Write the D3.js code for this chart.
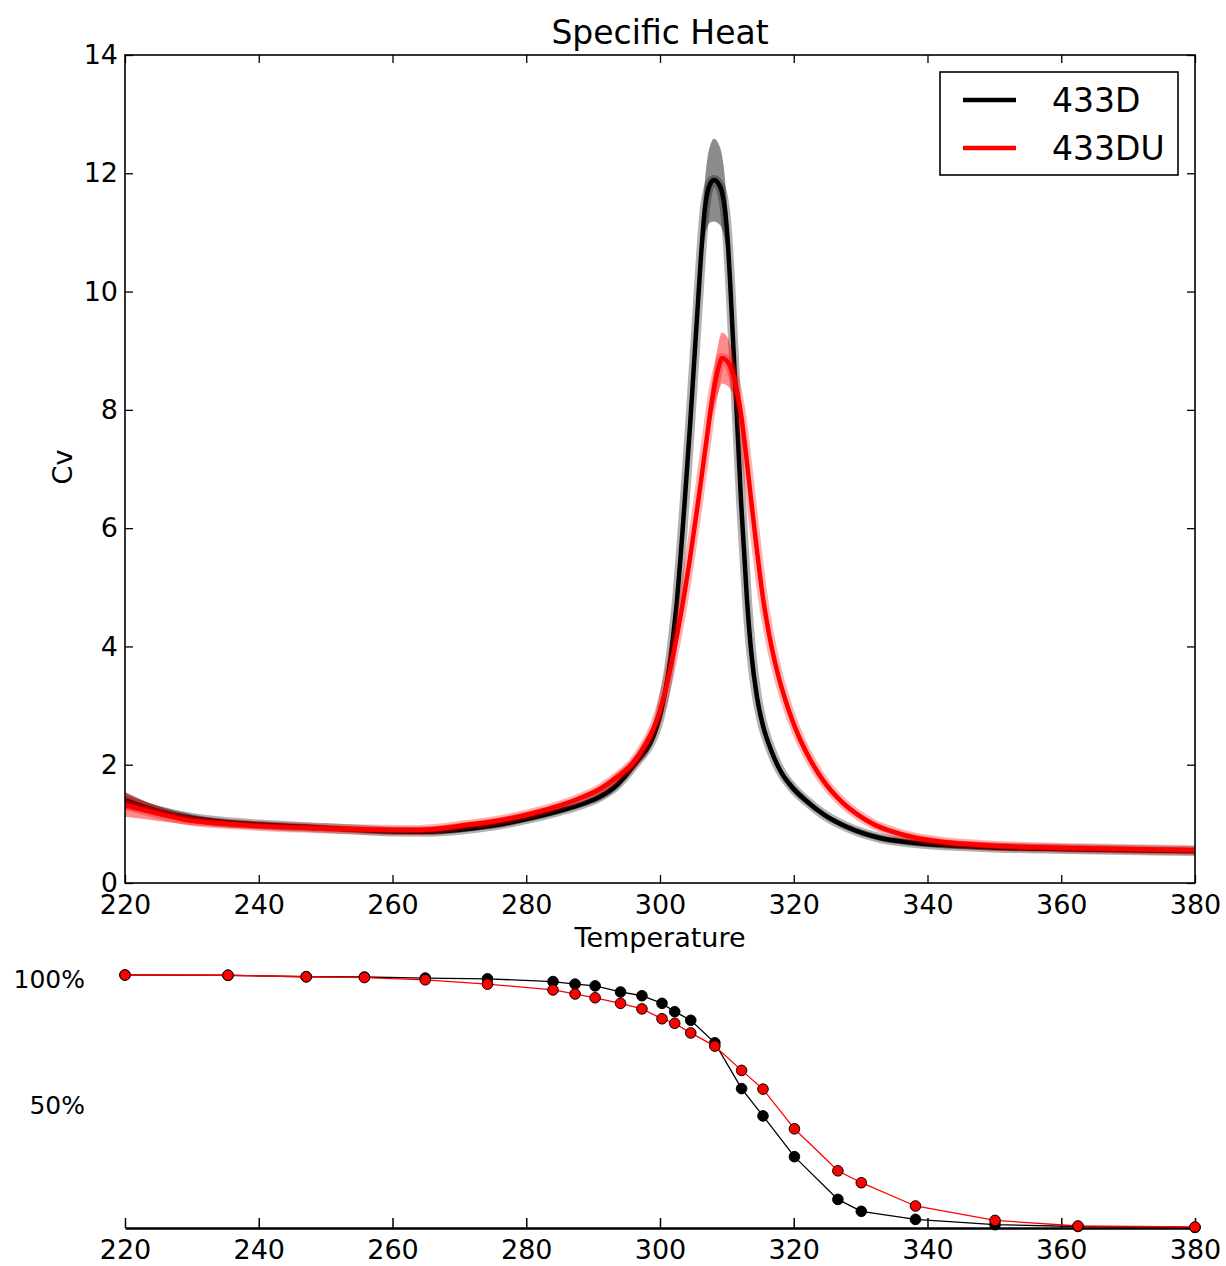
<!DOCTYPE html>
<html><head><meta charset="utf-8">
<script src="https://cdn.jsdelivr.net/npm/d3@7"></script>
<style>
html,body{margin:0;padding:0;background:#fff;}
text{font-family:"DejaVu Sans",sans-serif;fill:#000;}
</style></head>
<body>
<script>
// ---------- data ----------
const xTicks = [220,240,260,280,300,320,340,360,380];
const yTicks = [0,2,4,6,8,10,12,14];
const seriesNames = ["433D","433DU"];
const seriesColors = ["#000000","#ff0000"];

// Specific heat, 433D
const tD  = [220,225,230,235,240,250,260,265,270,275,280,285,288.5,
  291.03,293.57,296.56,298.5,299.25,299.85,300.52,301.35,301.94,302.54,303.1,303.66,304.1,304.56,305.0,305.53,305.83,306.13,306.43,306.73,307.1,307.55,308.07,
  308.67,309.27,309.72,310.17,310.47,310.77,311.07,311.37,311.74,312.11,312.56,313.01,313.61,314.51,315.4,316.6,317.94,319.73,321.73,324.58,327.87,332.9,337.83,347.85,362.8,380];
const cvD = [1.40,1.22,1.10,1.03,0.99,0.93,0.87,0.865,0.90,0.97,1.08,1.22,1.34,
  1.46,1.66,2.06,2.36,2.55,2.76,3.094,3.62,4.15,4.78,5.55,6.40,7.10,7.85,8.62,9.55,10.08,10.6,11.06,11.42,11.68,11.83,11.886,
  11.836,11.683,11.379,10.787,10.196,9.519,8.843,8.167,7.321,6.476,5.63,4.785,3.94,3.14,2.66,2.249,1.911,1.623,1.403,1.15,0.95,0.76,0.68,0.61,0.57,0.54];
const errD= [0.14,0.08,0.06,0.05,0.05,0.05,0.05,0.05,0.05,0.05,0.05,0.05,0.05,
  0.06,0.07,0.08,0.1,0.11,0.12,0.14,0.16,0.18,0.2,0.2,0.2,0.2,0.2,0.2,0.22,0.25,0.3,0.38,0.48,0.58,0.66,0.7,
  0.68,0.62,0.52,0.4,0.32,0.26,0.22,0.2,0.2,0.2,0.2,0.2,0.18,0.15,0.12,0.1,0.08,0.07,0.06,0.05,0.05,0.05,0.05,0.05,0.05,0.05];

// Specific heat, 433DU
const tDU  = [220,225,229,235,239,249,256,262,266,271,275,281,
  288.49,291.03,293.57,295.96,297.76,299.25,300.45,301.5,302.39,303.44,304.34,305.08,305.83,306.43,307.03,307.63,308.22,308.82,309.27,
  309.87,310.47,311.07,311.66,312.22,312.71,313.16,313.68,314.5,315.4,315.92,316.78,317.66,318.75,319.77,320.99,322.49,323.84,325.51,327.36,329.5,332.0,335.0,338.0,342.62,347.85,362.8,380];
const cvDU = [1.32,1.17,1.07,1.0,0.97,0.925,0.905,0.895,0.91,0.98,1.04,1.18,
  1.454,1.589,1.792,2.029,2.333,2.672,3.094,3.60,4.10,4.75,5.38,5.95,6.55,7.05,7.55,8.05,8.45,8.75,8.877,
  8.843,8.742,8.539,8.234,7.85,7.40,6.95,6.42,5.62,4.82,4.447,3.94,3.517,3.094,2.756,2.418,2.08,1.826,1.572,1.353,1.16,0.99,0.86,0.77,0.69,0.643,0.587,0.553];
const errDU= [0.2,0.12,0.08,0.06,0.05,0.05,0.05,0.05,0.05,0.05,0.05,0.05,
  0.05,0.06,0.07,0.08,0.1,0.1,0.12,0.13,0.14,0.15,0.15,0.15,0.15,0.15,0.18,0.25,0.35,0.42,0.43,
  0.42,0.38,0.3,0.22,0.18,0.15,0.15,0.15,0.15,0.15,0.14,0.13,0.12,0.11,0.1,0.09,0.08,0.07,0.06,0.05,0.05,0.05,0.05,0.05,0.05,0.05,0.05,0.05];

// Fraction folded (bottom panel)
const tPct  = [220,235.4,247.1,255.8,264.9,274.2,284,287.3,290.3,294.1,297.3,300.3,302.2,304.6,308.2,312.2,315.4,320.1,326.6,330.1,338.2,350.1,362.5,380];
const pctD  = [100,99.9,99.3,99.2,98.8,98.5,97.4,96.4,95.7,93.3,91.8,88.8,85.5,82.1,73.2,55.1,44.3,28.2,11.3,6.6,3.4,1.3,0.6,0.2];
const pctDU = [100,99.9,99.3,99.0,98.1,96.4,94.1,92.5,91.0,88.8,86.6,82.7,80.9,77.1,71.9,62.3,54.9,39.2,22.6,17.9,8.7,3.0,0.8,0.4];
const pctTicks = [100,50];

// ---------- drawing ----------
const W=1226,H=1266;
const svg=d3.select("body").append("svg").attr("width",W).attr("height",H);
const L=125,R=1195,T=55,B=883;
const x=d3.scaleLinear([220,380],[L,R]);
const y=d3.scaleLinear([0,14],[B,T]);

svg.append("defs").append("clipPath").attr("id","clip")
  .append("rect").attr("x",L).attr("y",T).attr("width",R-L).attr("height",B-T);

const main=svg.append("g");
const plot=main.append("g").attr("clip-path","url(#clip)");

const series=[
  {t:tD,v:cvD,e:errD,c:seriesColors[0]},
  {t:tDU,v:cvDU,e:errDU,c:seriesColors[1]}
];
series.forEach(s=>{
  const pts=s.t.map((t,i)=>({t,v:s.v[i],e:s.e[i]}));
  const area=d3.area().curve(d3.curveMonotoneX).x(d=>x(d.t)).y0(d=>y(d.v-d.e)).y1(d=>y(d.v+d.e));
  const line=d3.line().curve(d3.curveMonotoneX).x(d=>x(d.t)).y(d=>y(d.v));
  plot.append("path").datum(pts).attr("d",area).attr("fill",s.c).attr("fill-opacity",0.45);
  plot.append("path").datum(pts).attr("d",line).attr("fill","none").attr("stroke",s.c)
    .attr("stroke-width",10).attr("stroke-opacity",0.3).attr("stroke-linejoin","round");
  plot.append("path").datum(pts).attr("d",line).attr("fill","none").attr("stroke",s.c)
    .attr("stroke-width",4.5).attr("stroke-linejoin","round");
});

const fs=27;
function styleAxis(g,labels){
  g.select(".domain").remove();
  g.selectAll(".tick line").attr("stroke","#000").attr("stroke-width",1.3);
  g.selectAll(".tick text").attr("font-size",fs).attr("font-family","DejaVu Sans").style("display",labels?null:"none");
}
main.append("g").attr("transform",`translate(0,${B})`)
  .call(d3.axisBottom(x).tickValues(xTicks).tickSizeInner(-8).tickSizeOuter(0).tickPadding(12).tickFormat(d3.format("d")))
  .call(g=>styleAxis(g,true));
main.append("g").attr("transform",`translate(0,${T})`)
  .call(d3.axisTop(x).tickValues(xTicks).tickSizeInner(-8).tickSizeOuter(0))
  .call(g=>styleAxis(g,false));
main.append("g").attr("transform",`translate(${L},0)`)
  .call(d3.axisLeft(y).tickValues(yTicks).tickSizeInner(-8).tickSizeOuter(0).tickPadding(7).tickFormat(d3.format("d")))
  .call(g=>styleAxis(g,true));
main.append("g").attr("transform",`translate(${R},0)`)
  .call(d3.axisRight(y).tickValues(yTicks).tickSizeInner(-8).tickSizeOuter(0))
  .call(g=>styleAxis(g,false));
main.append("rect").attr("x",L).attr("y",T).attr("width",R-L).attr("height",B-T)
  .attr("fill","none").attr("stroke","#000").attr("stroke-width",1.6);

svg.append("text").attr("x",(L+R)/2).attr("y",44).attr("text-anchor","middle").attr("font-size",33).text("Specific Heat");
svg.append("text").attr("x",(L+R)/2).attr("y",947).attr("text-anchor","middle").attr("font-size",fs).text("Temperature");
svg.append("text").attr("transform","translate(72,467) rotate(-90)").attr("text-anchor","middle").attr("font-size",fs).text("Cv");

// legend
const lg=svg.append("g");
lg.append("rect").attr("x",940).attr("y",72).attr("width",238).attr("height",103)
  .attr("fill","#fff").attr("stroke","#000").attr("stroke-width",1.6);
seriesNames.forEach((n,i)=>{
  const yy=100+i*48;
  lg.append("line").attr("x1",963).attr("x2",1016).attr("y1",yy).attr("y2",yy)
    .attr("stroke",seriesColors[i]).attr("stroke-width",4.5);
  lg.append("text").attr("x",1052).attr("y",yy+12).attr("font-size",33).text(n);
});

// ---------- bottom panel ----------
const yb=d3.scaleLinear([0,100],[1228,975]);
const bot=svg.append("g");
bot.append("g").attr("transform","translate(0,1228)")
  .call(d3.axisBottom(x).tickValues(xTicks).tickSizeInner(-10).tickSizeOuter(0).tickPadding(12).tickFormat(d3.format("d")))
  .call(g=>{
    g.select(".domain").attr("stroke","#000").attr("stroke-width",2.5);
    g.selectAll(".tick line").attr("stroke","#000").attr("stroke-width",1.5);
    g.selectAll(".tick text").attr("font-size",fs).attr("font-family","DejaVu Sans");
  });
pctTicks.forEach(p=>{
  bot.append("text").attr("x",85).attr("y",yb(p)+4).attr("text-anchor","end")
    .attr("dominant-baseline","central").attr("font-size",25).text(p+"%");
});
[pctD,pctDU].forEach((arr,k)=>{
  const pts=tPct.map((t,i)=>({t,p:arr[i]}));
  bot.append("path").datum(pts).attr("d",d3.line().x(d=>x(d.t)).y(d=>yb(d.p)))
    .attr("fill","none").attr("stroke",seriesColors[k]).attr("stroke-width",1.3);
  bot.selectAll(null).data(pts).enter().append("circle")
    .attr("cx",d=>x(d.t)).attr("cy",d=>yb(d.p)).attr("r",5.3)
    .attr("fill",seriesColors[k]).attr("stroke","#000").attr("stroke-width",1);
});
</script>
</body></html>
